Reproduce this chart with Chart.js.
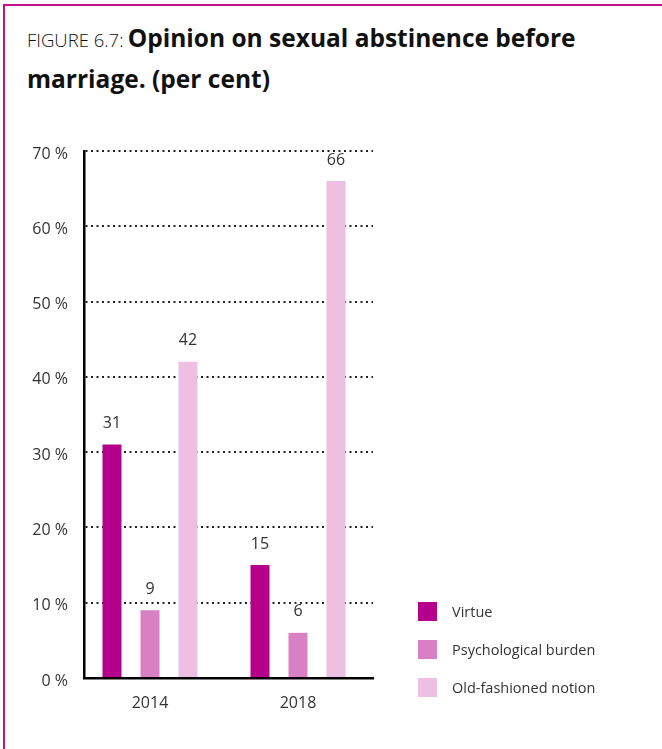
<!DOCTYPE html>
<html>
<head>
<meta charset="utf-8">
<script src="https://cdn.jsdelivr.net/npm/chart.js@4/dist/chart.umd.min.js"></script>
<style>
  html, body { margin: 0; padding: 0; background: #fff; }
  #wrap { position: relative; width: 662px; height: 749px; overflow: hidden; font-family: "Open Sans", sans-serif; }
  #frame { position: absolute; left: 3px; top: 4px; right: -5px; bottom: -5px; border-top: 2px solid #c0148f; border-left: 2px solid #c0148f; }
  #title { position: absolute; left: 27px; top: 19px; line-height: 38px; color: #111; white-space: nowrap; }
  #title .lead { font-weight: 300; font-size: 18.5px; }
  #title .main { font-weight: 700; font-size: 24.5px; }
  #chart { position: absolute; left: 0; top: 0; }
  #legend { position: absolute; left: 418px; top: 602px; }
  .item { position: relative; display: flex; align-items: center; height: 19px; margin-bottom: 19px; }
  .swatch { width: 19px; height: 19px; margin-right: 15px; flex: none; }
  .item span { font-size: 14.5px; color: #333; white-space: nowrap; }
</style>
</head>
<body>
<div id="wrap">
  <div id="frame"></div>
  <div id="title"><span class="lead">FIGURE 6.7:</span> <span class="main">Opinion on sexual abstinence before</span><br><span class="main">marriage. (per cent)</span></div>
  <canvas id="chart" width="662" height="749"></canvas>
  <div id="legend"></div>
</div>
<script>
// Survey years and the share of respondents per opinion
const years = ['2014', '2018'];
const seriesNames = ['Virtue', 'Psychological burden', 'Old-fashioned notion'];
const virtue = [31, 15];
const psychologicalBurden = [9, 6];
const oldFashioned = [42, 66];
const seriesColors = ['#b5008c', '#d97fc4', '#edc0e3'];
const yTicks = [0, 10, 20, 30, 40, 50, 60, 70];

const seriesValues = [virtue, psychologicalBurden, oldFashioned];

const datasets = seriesValues.map((vals, s) => ({
  label: seriesNames[s],
  data: vals.map((v, i) => ({ x: i, y: v })),
  backgroundColor: seriesColors[s],
  categoryPercentage: 0.77,
  barPercentage: 0.5
}));

// Value labels above each bar, with a white backing so the dotted grid breaks around them
const valueLabels = {
  id: 'valueLabels',
  afterDatasetsDraw(chart) {
    const ctx = chart.ctx;
    ctx.save();
    ctx.font = '400 16px "Open Sans"';
    ctx.textAlign = 'center';
    ctx.textBaseline = 'middle';
    chart.data.datasets.forEach((ds, di) => {
      chart.getDatasetMeta(di).data.forEach((bar, i) => {
        const txt = String(ds.data[i].y);
        const cy = bar.y - 21;
        const w = ctx.measureText(txt).width;
        ctx.fillStyle = '#fff';
        ctx.fillRect(bar.x - w / 2 - 3, cy - 8, w + 6, 16);
        ctx.fillStyle = '#333';
        ctx.fillText(txt, bar.x, cy);
      });
    });
    ctx.restore();
  }
};

new Chart(document.getElementById('chart'), {
  type: 'bar',
  data: { datasets },
  options: {
    responsive: false,
    animation: false,
    layout: { padding: { left: 0, right: 289, top: 151, bottom: 0 } },
    plugins: { legend: { display: false }, tooltip: { enabled: false } },
    scales: {
      x: {
        type: 'linear',
        offset: false,
        min: -0.4459,
        max: 1.5068,
        afterBuildTicks(scale) { scale.ticks = years.map((_, i) => ({ value: i })); },
        afterFit(scale) { scale.height = 71; },
        grid: { display: false, offset: false },
        border: { display: true, color: '#000', width: 2.5 },
        ticks: {
          padding: 8,
          color: '#333',
          font: { family: 'Open Sans', size: 16 },
          callback: (v) => years[v]
        }
      },
      y: {
        min: 0,
        max: 70,
        afterBuildTicks(scale) { scale.ticks = yTicks.map(v => ({ value: v })); },
        afterFit(scale) { scale.width = 84; },
        grid: {
          drawTicks: false,
          lineWidth: 2,
          color: (ctx) => ctx.tick && ctx.tick.value === 0 ? 'rgba(0,0,0,0)' : '#222'
        },
        border: { display: true, color: '#000', width: 2.5, dash: [2, 3.5] },
        ticks: {
          padding: 16,
          labelOffset: 3,
          color: '#333',
          font: { family: 'Open Sans', size: 16 },
          callback: (v) => v + ' %'
        }
      }
    }
  },
  plugins: [valueLabels]
});

// Legend built from the same series names and colours
const legend = document.getElementById('legend');
seriesNames.forEach((name, s) => {
  const item = document.createElement('div');
  item.className = 'item';
  const sw = document.createElement('div');
  sw.className = 'swatch';
  sw.style.background = seriesColors[s];
  const label = document.createElement('span');
  label.textContent = name;
  item.appendChild(sw);
  item.appendChild(label);
  legend.appendChild(item);
});
</script>
</body>
</html>
